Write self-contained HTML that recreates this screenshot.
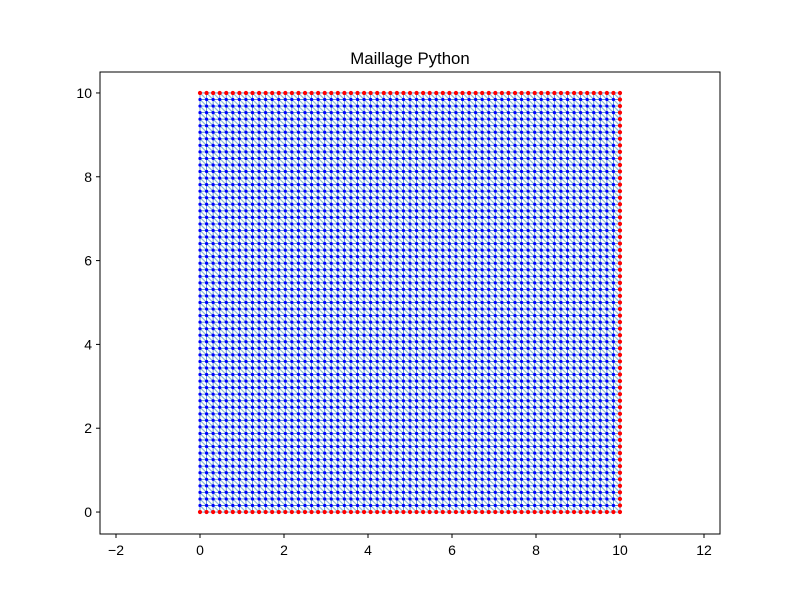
<!DOCTYPE html>
<html><head><meta charset="utf-8"><style>
body{margin:0;background:#fff}
svg text{font-family:"Liberation Sans","DejaVu Sans",sans-serif;font-size:14px;fill:#000}
</style></head><body>
<svg id="c" width="800" height="600" xmlns="http://www.w3.org/2000/svg">
<rect width="800" height="600" fill="#fff"/>
<g id="mesh"></g>
<g id="axes"></g>
<text x="410" y="64" text-anchor="middle" style="font-size:16.8px">Maillage Python</text>
</svg>
<script>
const meshN = [64, 64];
const meshRange = [0, 10];
const xLim = [-2.381, 12.381];
const yLim = [-0.524, 10.5];
const xTicks = [-2, 0, 2, 4, 6, 8, 10, 12];
const yTicks = [0, 2, 4, 6, 8, 10];

const L=100,R=720,T=72,B=534;
const sx=v=>L+(v-xLim[0])/(xLim[1]-xLim[0])*(R-L);
const sy=v=>B-(v-yLim[0])/(yLim[1]-yLim[0])*(B-T);
const NS="http://www.w3.org/2000/svg";
const mk=(t,a)=>{const e=document.createElementNS(NS,t);for(const k in a)e.setAttribute(k,a[k]);return e;};
const mesh=document.getElementById('mesh');
const nx=meshN[0], ny=meshN[1];
const xs=i=>meshRange[0]+(meshRange[1]-meshRange[0])*i/nx;
const ys=j=>meshRange[0]+(meshRange[1]-meshRange[0])*j/ny;
let d1="", d2="";
for(let j=0;j<=ny;j++) d1+=`M${sx(xs(0))},${sy(ys(j))}L${sx(xs(nx))},${sy(ys(j))}`;
for(let i=0;i<=nx;i++) d1+=`M${sx(xs(i))},${sy(ys(0))}L${sx(xs(i))},${sy(ys(ny))}`;
for(let i=0;i<nx;i++)for(let j=0;j<ny;j++) d2+=`M${sx(xs(i))},${sy(ys(j+1))}L${sx(xs(i+1))},${sy(ys(j))}`;
const p2=mk('path',{d:d2,stroke:'#8fbcdc',"stroke-width":1.2,fill:'none'});


mesh.appendChild(p2);
const p1=mk('path',{d:d1,stroke:'#4f8fc8',"stroke-width":0.9,fill:'none'});


mesh.appendChild(p1);
let db="", dr="";
for(let i=0;i<=nx;i++)for(let j=0;j<=ny;j++){
  const x=sx(xs(i)),y=sy(ys(j));
  const bnd=(j===0||j===ny||i===nx);
  const r=bnd?2.1:1.6;
  const s=`M${x-r},${y}a${r},${r} 0 1,0 ${2*r},0a${r},${r} 0 1,0 ${-2*r},0`;
  if(bnd) dr+=s; else db+=s;
}
const pb=mk('path',{d:db,fill:'#0000ff'});


mesh.appendChild(pb);
const pr=mk('path',{d:dr,fill:'#ff0000'});


mesh.appendChild(pr);

const ax=document.getElementById('axes');
const fr=mk('rect',{x:L,y:T,width:R-L,height:B-T,fill:'none',stroke:'#000',"stroke-width":1});


ax.appendChild(fr);
xTicks.forEach(v=>{
  const x=sx(v);
  const l=mk('line',{x1:x,x2:x,y1:B,y2:B+4,stroke:'#000'});
  
  
  ax.appendChild(l);
  const t=mk('text',{x:x,y:B+21,"text-anchor":"middle"});
  t.textContent=v<0?'\u2212'+(-v):v;
  
  
  ax.appendChild(t);
});
yTicks.forEach(v=>{
  const y=sy(v);
  const l=mk('line',{x1:L-4,x2:L,y1:y,y2:y,stroke:'#000'});
  
  
  ax.appendChild(l);
  const t=mk('text',{x:L-8,y:y+5,"text-anchor":"end"});
  t.textContent=v;
  
  
  ax.appendChild(t);
});
</script>
</body></html>
